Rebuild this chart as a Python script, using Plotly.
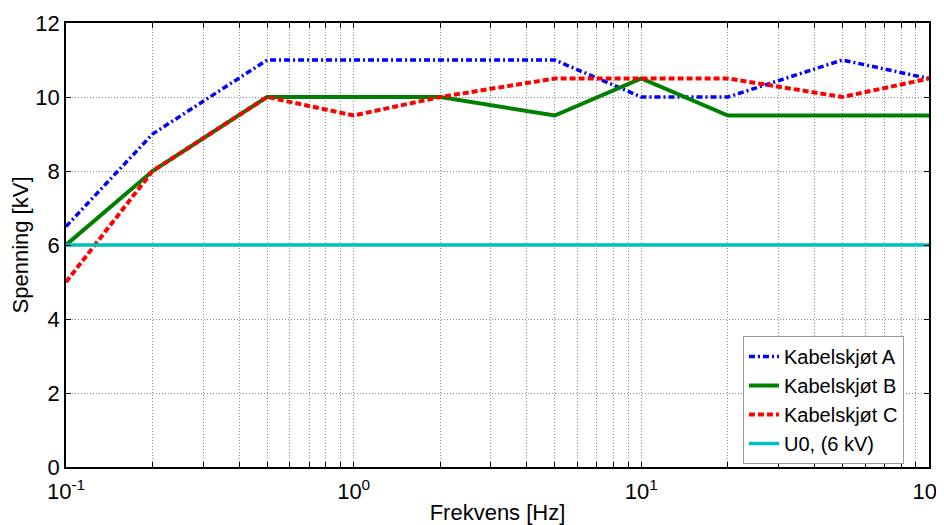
import plotly.graph_objects as go

freq = [0.1, 0.2, 0.5, 1, 2, 5, 10, 20, 50, 100]
kabel_a = [6.5, 9, 11, 11, 11, 11, 10, 10, 11, 10.5]
kabel_b = [6, 8, 10, 10, 10, 9.5, 10.5, 9.5, 9.5, 9.5]
kabel_c = [5, 8, 10, 9.5, 10, 10.5, 10.5, 10.5, 10, 10.5]
u0 = [6] * len(freq)

x_tickvals = [m * 10 ** e for e in (-1, 0, 1) for m in range(1, 10)] + [100]
x_ticktext = ["10<sup>%d</sup>" % e if m == 1 else "" for e in (-1, 0, 1) for m in range(1, 10)] + ["10<sup>2</sup>"]
y_tickvals = [0, 2, 4, 6, 8, 10, 12]

FONT = "Liberation Sans, Arial, Helvetica"

fig = go.Figure()
fig.add_trace(go.Scatter(x=freq, y=kabel_a, mode="lines", name="Kabelskjøt A",
                         line=dict(color="#0000FF", width=3.5, dash="6px,3px,2px,3px")))
fig.add_trace(go.Scatter(x=freq, y=kabel_b, mode="lines", name="Kabelskjøt B",
                         line=dict(color="#008000", width=4)))
fig.add_trace(go.Scatter(x=freq, y=kabel_c, mode="lines", name="Kabelskjøt C",
                         line=dict(color="#FF0000", width=4, dash="6px,3px")))
fig.add_trace(go.Scatter(x=freq, y=u0, mode="lines", name="U0, (6 kV)",
                         line=dict(color="#00BFBF", width=3.5)))

axis_common = dict(showline=True, linecolor="black", linewidth=1.5, mirror="ticks",
                   ticks="inside", ticklen=5, tickcolor="black", tickwidth=1.2,
                   showgrid=True, gridcolor="#8C8C8C", griddash="1px,2px", gridwidth=1,
                   zeroline=False, automargin=False, ticklabeloverflow="allow",
                   tickfont=dict(family=FONT, size=22, color="black"))

# the page body has an 8px default margin, so the figure is sized to end at 944x525
fig.update_layout(
    width=936, height=517,
    paper_bgcolor="white", plot_bgcolor="white",
    margin=dict(l=58, r=15, t=15, b=58),
    font=dict(family=FONT, color="black"),
    xaxis=dict(type="log", range=[-1, 2], tickvals=x_tickvals, ticktext=x_ticktext,
               ticklabelstandoff=4,
               title=dict(text="Frekvens [Hz]", font=dict(size=22, family=FONT), standoff=12),
               **axis_common),
    yaxis=dict(range=[0, 12], tickvals=y_tickvals,
               title=dict(text="Spenning [kV]", font=dict(size=22, family=FONT), standoff=4),
               **axis_common),
    legend=dict(x=0.971, y=0.295, xanchor="right", yanchor="top",
                bgcolor="white", bordercolor="#999999", borderwidth=1,
                font=dict(size=20, family=FONT),
                tracegroupgap=0, itemwidth=30),
    showlegend=True,
)

fig.write_html("out.html")
